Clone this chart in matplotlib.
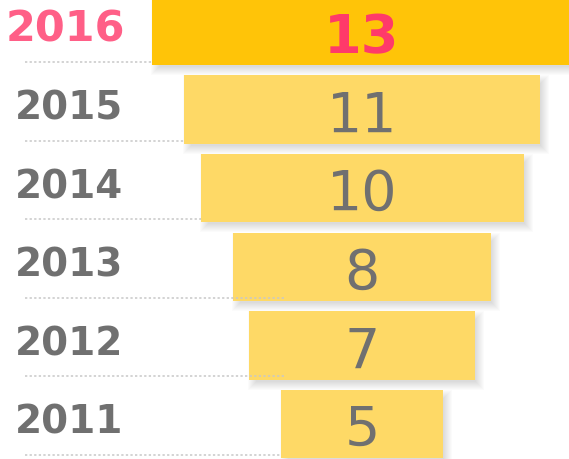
import matplotlib
matplotlib.use("Agg")
import matplotlib.pyplot as plt
from matplotlib.patches import Rectangle

# data
years = ["2016", "2015", "2014", "2013", "2012", "2011"]
values = [13, 11, 10, 8, 7, 5]

# styling
gold = "#FFC408"
light = "#FED966"
pink_year = "#FF5F87"
pink_val = "#FF3A6A"
grey = "#707070"

# pixel scale of the layout (px per unit)
PX = 32.3
PY = 78.6

fig = plt.figure(figsize=(5.69, 4.59), dpi=100)
ax = fig.add_axes([0, 0, 1, 1])
ax.set_xlim(-362 / PX, 207 / PX)
ax.set_ylim(428 / PY, -31 / PY)
ax.axis("off")

rows = list(range(len(years)))
h = 0.87
lefts = [-v / 2 for v in values]
colors = [gold] + [light] * (len(values) - 1)

# soft drop shadow, offset down-right
for y, l, v in zip(rows, lefts, values):
    for k in range(9):
        g = k - 3
        ax.add_patch(Rectangle((l + (4 - g) / PX, y - h / 2 + (5 - g) / PY),
                               v + 2 * g / PX, h + 2 * g / PY,
                               color="#000000", alpha=0.016, lw=0, zorder=1))

ax.barh(rows, values, left=lefts, height=h, color=colors, zorder=2)

# dotted guide lines under the year labels (the 2013/2012 ones sit on top)
line_z = [0.5, 0.5, 0.5, 3, 3, 0.5]
for y, z in zip(rows, line_z):
    ax.plot([-337 / PX, -78 / PX], [y + 31 / PY] * 2, ls=(0, (1.5, 1.5)),
            color="#C8C8C8", lw=1.1, zorder=z)

for y, yr, v in zip(rows, years, values):
    top = y == 0
    ax.text((-297 if top else -293) / PX, y - 1 / PY, yr, ha="center", va="center",
            fontsize=31 if top else 28, fontweight="bold",
            color=pink_year if top else grey, zorder=4)
    ax.text(0, y + 7 / PY, str(v), ha="center", va="center",
            fontsize=39 if top else 40, fontweight="bold" if top else "normal",
            color=pink_val if top else grey, zorder=4)

fig.savefig("out.png", dpi=100)
